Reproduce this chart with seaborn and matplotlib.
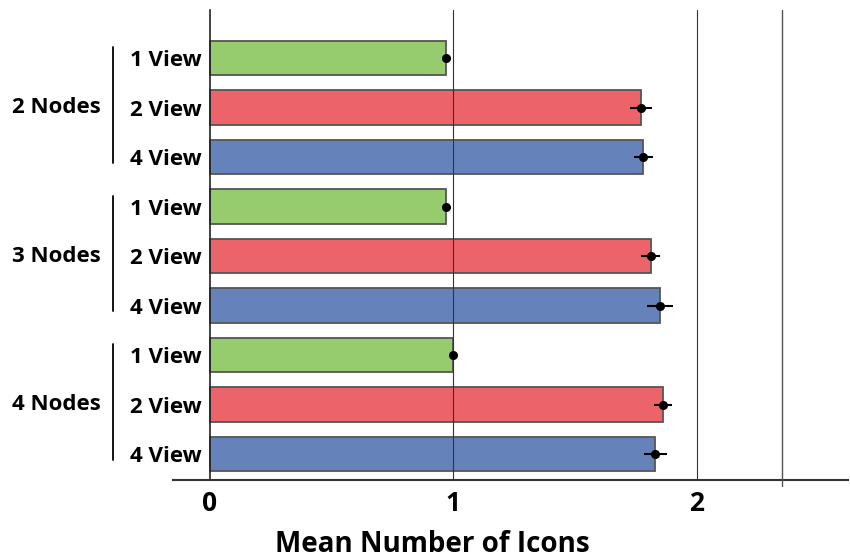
import pandas as pd
import matplotlib.pyplot as plt
import matplotlib.transforms as mtransforms
import seaborn as sns

# Values
nodes = ["2 Nodes", "3 Nodes", "4 Nodes"]
views = ["1 View", "2 View", "4 View"]
means = [0.97, 1.77, 1.78,
         0.97, 1.81, 1.85,
         1.00, 1.86, 1.83]
errs = [0.01, 0.045, 0.04,
        0.01, 0.04, 0.053,
        0.005, 0.038, 0.046]
colors = {"1 View": "#96CB6E", "2 View": "#EC636A", "4 View": "#6583BA"}

rows = []
for i, n in enumerate(nodes):
    for j, v in enumerate(views):
        rows.append({"key": f"{n} | {v}", "node": n, "view": v,
                     "mean": means[i * 3 + j], "err": errs[i * 3 + j]})
df = pd.DataFrame(rows)

sns.set_style("white")
plt.rcParams["font.family"] = ["Open Sans", "DejaVu Sans"]
plt.rcParams["text.color"] = "black"
plt.rcParams["xtick.color"] = "black"
plt.rcParams["ytick.color"] = "black"
plt.rcParams["axes.labelcolor"] = "black"

fig = plt.figure(figsize=(8.5, 5.58), dpi=100)
ax = fig.add_axes([173 / 850, 1 - 480 / 558, 675 / 850, 470 / 558])

sns.barplot(data=df, x="mean", y="key", hue="view", palette=colors, dodge=False,
            width=0.7, edgecolor="#555555", linewidth=1.3, errorbar=None,
            saturation=1, legend=False, ax=ax, zorder=2)

# error bars with mean dots
ax.errorbar(df["mean"], range(len(df)), xerr=df["err"], fmt="o", color="black",
            ms=5.5, elinewidth=1.5, capsize=0, zorder=4)

# vertical reference lines
for xv in [1, 2]:
    ax.axvline(xv, color="#333333", lw=0.8, zorder=3)
ax.plot([2.35, 2.35], [-0.97, 8.65], color="#555555", lw=1.0, clip_on=False, zorder=3)

ax.set_xlim(-0.15, 2.62)
ax.set_ylim(8.525, -0.97)

for s in ["top", "right"]:
    ax.spines[s].set_visible(False)
ax.spines["left"].set_position(("data", 0))
ax.spines["left"].set_color("#222222")
ax.spines["left"].set_linewidth(1.2)
ax.spines["bottom"].set_color("#333333")
ax.spines["bottom"].set_linewidth(1.5)

ax.set_xticks([0, 1, 2])
ax.set_xticklabels(["0", "1", "2"], fontsize=19, fontweight="bold")
ax.set_yticks(range(len(df)))
ax.set_yticklabels(df["view"], fontsize=16, fontweight="bold")
ax.tick_params(axis="y", length=0, pad=6)
ax.tick_params(axis="x", length=0, pad=7)
ax.set_ylabel("")
ax.set_xlabel("Mean Number of Icons", fontsize=20, fontweight="bold")
ax.xaxis.set_label_coords(0.384, -0.106)

# group labels with bracket lines
trans = mtransforms.blended_transform_factory(fig.transFigure, ax.transData)
for i, n in enumerate(nodes):
    c = i * 3 + 1
    fig.text(56 / 850, c, n, transform=trans, ha="center", va="center",
             fontsize=16, fontweight="bold")
    ax.plot([113 / 850, 113 / 850], [c - 1.22, c + 1.12], transform=trans,
            color="black", lw=1.3, clip_on=False)

plt.savefig("out.png", dpi=100)
